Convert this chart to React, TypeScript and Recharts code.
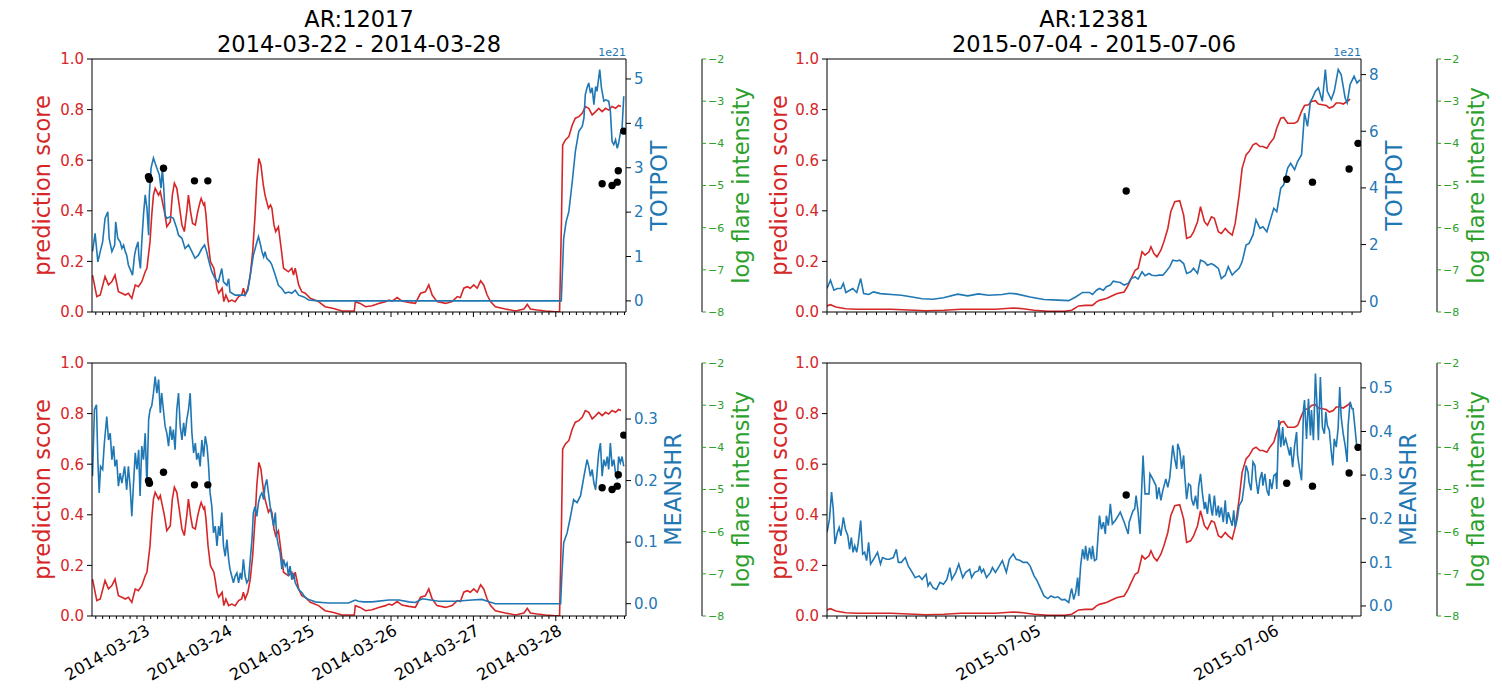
import React from 'react';
import { ComposedChart, Line, Scatter, XAxis, YAxis, ReferenceLine } from 'recharts';

const FONT = "'DejaVu Sans', 'Liberation Sans', sans-serif";
const RED = '#d62728';
const BLUE = '#1f77b4';
const GREEN = '#2ca02c';

// ---------- AR 12017 (x = hours since 2014-03-22 00:00) ----------
const titleA = ['AR:12017', '2014-03-22 - 2014-03-28'];
const dayHoursA = [24, 48, 72, 96, 120, 144];
const dayLabelsA = ['2014-03-23', '2014-03-24', '2014-03-25', '2014-03-26', '2014-03-27', '2014-03-28'];

const scoreA: [number, number][] = [
  [9.05,0.146],[10.3,0.061],[11.3,0.067],[12.7,0.140],[13.7,0.107],[14.7,0.120],[15.6,0.146],[16.6,0.080],[17.6,0.074],[18.6,0.067],[19.5,0.074],[20.5,0.054],[21.5,0.107],[22.4,0.100],[23.4,0.120],[24.4,0.159],[24.9,0.173],[25.8,0.278],[26.3,0.383],[26.8,0.462],[27.3,0.489],[28.3,0.462],[28.8,0.476],[29.2,0.449],[30.0,0.397],[30.7,0.337],[31.7,0.357],[32.3,0.462],[32.9,0.509],[33.6,0.489],[34.3,0.423],[35.1,0.344],[35.8,0.318],[36.5,0.397],[37.0,0.462],[37.6,0.397],[38.2,0.350],[39.0,0.344],[39.7,0.397],[40.4,0.436],[40.7,0.449],[41.4,0.423],[41.7,0.430],[42.1,0.383],[42.7,0.278],[43.4,0.199],[44.4,0.173],[44.9,0.133],[45.3,0.094],[45.8,0.074],[46.8,0.094],[47.3,0.041],[47.9,0.067],[48.7,0.041],[49.6,0.047],[50.6,0.041],[51.6,0.061],[52.5,0.067],[53.0,0.094],[53.5,0.067],[54.3,0.094],[55.0,0.146],[55.7,0.238],[56.4,0.383],[56.9,0.515],[57.5,0.607],[58.1,0.581],[58.8,0.502],[59.3,0.462],[60.3,0.410],[60.9,0.423],[61.3,0.410],[61.9,0.344],[62.4,0.318],[63.2,0.337],[64.0,0.252],[64.7,0.173],[66.1,0.159],[67.1,0.173],[67.6,0.146],[68.1,0.173],[69.1,0.107],[70.0,0.080],[71.0,0.074],[72.5,0.054],[74.9,0.041],[76.8,0.021],[79.3,0.014],[81.7,0.004],[84.6,0.004],[85.3,0.004],[85.6,0.041],[87.0,0.034],[88.6,0.021],[90.5,0.025],[92.4,0.034],[94.4,0.041],[95.4,0.047],[96.3,0.043],[97.8,0.057],[99.2,0.043],[101.2,0.038],[103.1,0.034],[104.6,0.074],[106.0,0.080],[107.0,0.107],[108.0,0.067],[109.4,0.041],[111.9,0.034],[113.8,0.041],[115.3,0.061],[116.2,0.057],[117.2,0.094],[118.2,0.100],[119.1,0.094],[120.1,0.107],[121.1,0.094],[122.1,0.123],[123.0,0.107],[124.0,0.067],[125.0,0.041],[126.4,0.021],[129.3,0.012],[132.3,0.004],[134.7,0.012],[135.7,0.030],[136.6,0.012],[138.6,0.008],[141.0,0.004],[143.9,0.001],[145.1,0.001],[145.65,0.357],[146.0,0.660],[146.8,0.680],[147.8,0.693],[148.8,0.739],[149.7,0.766],[150.7,0.772],[151.7,0.785],[152.6,0.812],[153.6,0.805],[154.6,0.779],[155.6,0.792],[156.5,0.805],[157.5,0.792],[158.5,0.805],[159.4,0.798],[160.4,0.812],[161.4,0.805],[162.3,0.816],[163.0,0.812]
];

const totpotA: [number, number][] = [
  [9.05,1.11],[9.8,1.52],[10.6,0.88],[11.3,1.11],[12.0,1.33],[12.7,1.86],[13.5,2.01],[13.9,1.41],[14.7,1.11],[15.5,1.26],[15.8,1.78],[16.4,1.41],[17.1,1.33],[17.6,1.18],[18.1,1.26],[18.6,1.11],[19.0,1.03],[19.5,0.81],[20.3,0.66],[20.7,0.58],[21.3,1.03],[21.7,1.18],[22.3,1.33],[22.6,0.96],[23.0,0.73],[23.4,1.33],[23.9,1.94],[24.4,2.39],[24.9,2.09],[25.4,1.48],[25.6,2.39],[26.1,2.99],[26.8,3.22],[27.3,3.10],[27.8,2.99],[28.5,2.84],[29.0,2.54],[29.4,2.99],[29.8,2.54],[30.2,1.94],[30.7,1.86],[31.7,1.90],[32.6,1.86],[33.6,1.63],[34.1,1.48],[35.1,1.41],[36.0,1.18],[37.0,1.26],[38.0,1.11],[38.9,0.96],[39.9,1.03],[40.9,1.18],[41.7,1.26],[42.3,1.11],[43.0,0.88],[43.8,0.66],[44.8,0.50],[45.7,0.43],[46.7,0.73],[47.2,0.43],[48.2,0.35],[48.7,0.50],[49.1,0.20],[50.6,0.13],[52.5,0.13],[53.5,0.13],[54.3,0.24],[55.3,0.73],[55.9,1.03],[56.7,1.26],[57.4,1.45],[58.0,1.26],[58.4,1.11],[58.9,0.99],[59.3,1.11],[59.8,0.96],[60.8,0.88],[61.3,0.81],[62.3,0.58],[63.2,0.35],[64.2,0.28],[65.2,0.17],[66.1,0.20],[67.1,0.17],[68.1,0.24],[69.1,0.13],[70.6,0.09],[72.0,0.02],[74.9,0],[145.6,0],[146.3,1.41],[147.0,1.78],[147.8,2.01],[148.8,2.69],[149.7,3.37],[150.7,3.82],[151.7,3.93],[152.2,4.12],[152.6,4.65],[153.1,4.80],[153.6,4.91],[154.1,4.68],[154.6,4.80],[155.1,4.42],[155.6,4.83],[156.0,4.72],[156.8,5.21],[157.3,4.80],[158.0,4.50],[158.5,4.53],[159.4,4.50],[159.9,4.27],[160.4,3.59],[160.9,3.52],[161.4,3.63],[161.9,3.44],[162.3,3.55],[162.8,3.78],[163.3,3.89],[163.8,4.61]
];

const meanshrA: [number, number][] = [
  [9.05,0.207],[9.6,0.315],[10.2,0.323],[10.6,0.234],[11.0,0.180],[11.4,0.223],[12.0,0.218],[12.5,0.261],[13.2,0.304],[13.7,0.266],[14.2,0.277],[14.7,0.234],[15.2,0.256],[15.6,0.223],[16.1,0.234],[16.6,0.191],[17.1,0.212],[17.6,0.196],[18.4,0.223],[19.0,0.185],[19.5,0.223],[20.0,0.191],[20.5,0.142],[21.0,0.196],[21.5,0.245],[22.0,0.218],[22.5,0.250],[22.9,0.175],[23.4,0.256],[23.9,0.234],[24.4,0.277],[24.9,0.191],[25.4,0.299],[25.8,0.315],[26.3,0.321],[26.8,0.342],[27.3,0.369],[27.8,0.342],[28.3,0.364],[28.8,0.310],[29.2,0.342],[29.7,0.315],[30.2,0.288],[30.7,0.277],[31.2,0.256],[31.7,0.288],[32.2,0.266],[32.6,0.283],[33.1,0.250],[33.6,0.315],[34.1,0.342],[34.6,0.288],[35.1,0.266],[35.6,0.294],[36.0,0.272],[36.5,0.299],[37.0,0.315],[37.5,0.342],[38.0,0.277],[38.5,0.245],[39.0,0.261],[39.4,0.234],[39.9,0.245],[40.4,0.223],[40.9,0.266],[41.4,0.239],[41.9,0.272],[42.4,0.256],[42.8,0.229],[43.3,0.180],[43.8,0.158],[44.3,0.115],[44.8,0.126],[45.3,0.094],[45.8,0.126],[46.2,0.110],[46.7,0.148],[47.2,0.094],[47.7,0.077],[48.2,0.104],[48.7,0.072],[49.1,0.056],[49.6,0.045],[50.1,0.034],[50.6,0.045],[51.1,0.050],[51.6,0.034],[52.1,0.050],[52.5,0.039],[53.0,0.072],[53.5,0.045],[54.0,0.034],[54.5,0.039],[55.0,0.072],[55.5,0.104],[55.9,0.148],[56.4,0.158],[56.9,0.142],[57.4,0.164],[57.9,0.175],[58.4,0.180],[58.9,0.169],[59.3,0.191],[59.8,0.202],[60.3,0.180],[60.8,0.158],[61.3,0.142],[61.8,0.126],[62.3,0.148],[62.7,0.110],[63.2,0.094],[63.7,0.083],[64.2,0.056],[64.7,0.072],[65.2,0.061],[65.7,0.066],[66.1,0.045],[66.6,0.061],[67.1,0.039],[67.6,0.050],[68.1,0.034],[69.1,0.023],[70.0,0.018],[71.0,0.010],[72.0,0.007],[73.9,0.003],[75.9,0.002],[77.8,0.001],[83.6,0.001],[85.6,0.006],[86.5,0.004],[88.0,0.003],[90.5,0.003],[95.4,0.006],[98.3,0.006],[101.2,0.003],[103.1,0.002],[105.1,0.008],[109.9,0.004],[114.8,0.004],[119.6,0.006],[122.5,0.007],[124.5,0.003],[126.4,0.0],[145.4,0.0],[145.8,0.050],[146.3,0.099],[147.3,0.115],[148.3,0.142],[149.2,0.169],[150.2,0.164],[151.2,0.175],[152.2,0.207],[153.1,0.234],[153.6,0.223],[154.1,0.207],[154.6,0.218],[155.1,0.196],[155.6,0.185],[156.0,0.212],[156.5,0.245],[157.0,0.261],[157.5,0.207],[158.0,0.234],[158.5,0.223],[159.0,0.239],[159.4,0.218],[159.9,0.261],[160.4,0.223],[160.9,0.234],[161.4,0.212],[161.9,0.202],[162.3,0.239],[162.8,0.229],[163.3,0.239],[163.8,0.223]
];

const flareA: [number, number][] = [
  [25.36,-4.79],[25.65,-4.85],[29.73,-4.59],[38.75,-4.89],[42.64,-4.89],[157.5,-4.96],[160.4,-5.0],[161.9,-4.92],[162.2,-4.65],[163.8,-3.71]
];

// ---------- AR 12381 (x = hours since 2015-07-04 00:00) ----------
const titleB = ['AR:12381', '2015-07-04 - 2015-07-06'];
const dayHoursB = [24, 48];
const dayLabelsB = ['2015-07-05', '2015-07-06'];

const scoreB: [number, number][] = [
  [3.0,0.024],[3.35,0.029],[3.9,0.020],[4.9,0.013],[6.0,0.011],[7.7,0.011],[9.5,0.011],[11.2,0.008],[13.0,0.005],[14.8,0.007],[16.5,0.011],[18.3,0.011],[20.0,0.011],[21.8,0.016],[22.8,0.013],[23.9,0.007],[25.3,0.003],[27.0,0.003],[27.7,0.007],[28.4,0.024],[29.1,0.026],[29.8,0.026],[30.2,0.040],[30.5,0.046],[31.2,0.053],[31.9,0.066],[32.3,0.073],[33.0,0.079],[33.4,0.106],[33.7,0.132],[34.1,0.165],[34.4,0.172],[34.8,0.238],[35.1,0.225],[35.5,0.238],[35.7,0.258],[36.0,0.231],[36.3,0.218],[36.7,0.244],[37.0,0.277],[37.4,0.330],[37.7,0.396],[38.1,0.436],[38.6,0.440],[39.0,0.383],[39.3,0.291],[39.7,0.297],[40.0,0.317],[40.4,0.357],[40.7,0.416],[41.1,0.357],[41.4,0.343],[41.8,0.376],[42.1,0.370],[42.5,0.317],[42.8,0.310],[43.2,0.330],[43.5,0.317],[43.9,0.304],[44.2,0.350],[44.6,0.462],[44.9,0.568],[45.3,0.621],[45.6,0.634],[46.0,0.661],[46.3,0.667],[46.7,0.654],[47.0,0.654],[47.4,0.647],[47.7,0.667],[48.1,0.687],[48.4,0.727],[48.8,0.766],[49.1,0.769],[49.5,0.746],[50.2,0.746],[50.5,0.753],[50.9,0.793],[51.2,0.816],[51.6,0.819],[51.9,0.832],[52.3,0.835],[52.6,0.822],[53.0,0.819],[53.4,0.816],[53.7,0.806],[54.1,0.812],[54.4,0.826],[54.8,0.826],[55.1,0.822],[55.5,0.832],[55.8,0.841]
];

const totpotB: [number, number][] = [
  [3.0,0.45],[3.35,0.74],[3.7,0.39],[4.05,0.45],[4.4,0.45],[4.65,0.63],[4.9,0.31],[5.3,0.39],[5.6,0.45],[6.0,0.31],[6.4,0.80],[6.7,0.27],[7.2,0.24],[7.7,0.33],[8.4,0.27],[9.5,0.24],[10.5,0.21],[11.6,0.15],[12.6,0.09],[13.7,0.07],[14.75,0.12],[16.2,0.25],[17.2,0.19],[18.3,0.26],[19.3,0.21],[20.7,0.24],[21.4,0.28],[22.1,0.26],[23.5,0.15],[24.9,0.06],[26.3,0.04],[27.4,0.02],[28.1,0.15],[28.8,0.31],[29.5,0.31],[29.8,0.24],[30.2,0.39],[30.5,0.45],[30.9,0.39],[31.2,0.51],[31.6,0.57],[31.9,0.71],[32.3,0.68],[32.6,0.66],[33.0,0.57],[33.4,0.63],[33.7,0.80],[34.1,0.86],[34.4,0.78],[34.8,1.04],[35.1,0.90],[35.5,0.98],[35.8,0.92],[36.2,0.90],[36.5,0.92],[36.9,0.92],[37.2,1.04],[37.6,1.22],[37.9,1.45],[38.3,1.42],[38.6,1.45],[39.0,1.33],[39.3,0.98],[39.7,1.04],[40.0,1.16],[40.4,0.98],[40.7,1.45],[41.1,1.39],[41.4,1.27],[41.8,1.33],[42.1,1.27],[42.5,1.16],[42.8,0.80],[43.2,0.92],[43.5,1.22],[43.9,0.92],[44.2,1.04],[44.6,1.16],[44.9,1.39],[45.3,1.98],[45.6,2.04],[46.0,2.34],[46.3,2.87],[46.7,2.57],[47.0,2.63],[47.4,2.45],[47.7,2.81],[48.1,3.28],[48.4,3.16],[48.8,3.99],[49.1,4.11],[49.5,4.70],[49.8,4.87],[50.2,4.64],[50.5,4.93],[50.9,5.17],[51.2,6.64],[51.5,6.17],[51.8,7.06],[52.0,7.17],[52.3,7.41],[52.6,7.53],[53.0,7.06],[53.3,8.18],[53.5,7.41],[53.9,7.12],[54.2,7.41],[54.6,8.18],[54.9,8.00],[55.3,7.17],[55.5,7.00],[55.8,7.65],[56.2,7.94],[56.5,7.70],[56.8,7.82]
];

const meanshrB: [number, number][] = [
  [3.0,0.169],[3.25,0.199],[3.46,0.261],[3.63,0.222],[3.8,0.142],[4.05,0.169],[4.23,0.180],[4.4,0.161],[4.65,0.203],[4.86,0.176],[5.1,0.161],[5.28,0.130],[5.46,0.157],[5.63,0.123],[5.8,0.138],[6.0,0.123],[6.16,0.146],[6.4,0.196],[6.6,0.119],[6.8,0.123],[7.0,0.104],[7.2,0.146],[7.4,0.096],[7.7,0.107],[8.1,0.123],[8.4,0.096],[8.6,0.111],[9.0,0.107],[9.3,0.107],[9.7,0.111],[10.0,0.130],[10.2,0.100],[10.5,0.100],[10.9,0.111],[11.2,0.092],[11.6,0.077],[11.9,0.065],[12.3,0.069],[12.6,0.061],[13.0,0.073],[13.2,0.046],[13.4,0.054],[13.7,0.042],[14.05,0.038],[14.4,0.054],[14.75,0.050],[15.1,0.061],[15.4,0.088],[15.6,0.061],[16.0,0.077],[16.3,0.096],[16.7,0.065],[17.0,0.077],[17.4,0.084],[17.6,0.065],[17.9,0.077],[18.3,0.081],[18.4,0.092],[18.6,0.077],[18.8,0.084],[19.1,0.065],[19.5,0.077],[19.7,0.088],[20.0,0.077],[20.4,0.092],[20.7,0.104],[21.1,0.077],[21.4,0.107],[21.8,0.119],[22.1,0.107],[22.5,0.104],[22.8,0.100],[23.2,0.100],[23.5,0.092],[23.9,0.069],[24.2,0.058],[24.6,0.038],[24.9,0.023],[25.3,0.017],[25.6,0.023],[26.0,0.019],[26.3,0.021],[26.7,0.014],[27.0,0.015],[27.4,0.008],[27.6,0.031],[27.7,0.040],[27.9,0.015],[28.1,0.031],[28.3,0.065],[28.4,0.023],[28.6,0.092],[28.8,0.130],[29.0,0.107],[29.1,0.138],[29.3,0.104],[29.5,0.134],[29.7,0.107],[29.8,0.138],[30.0,0.104],[30.2,0.107],[30.5,0.207],[30.7,0.176],[30.9,0.192],[31.1,0.165],[31.2,0.207],[31.4,0.184],[31.6,0.234],[31.8,0.188],[32.1,0.196],[32.5,0.211],[32.6,0.215],[33.0,0.192],[33.4,0.165],[33.5,0.192],[33.9,0.219],[34.05,0.222],[34.2,0.253],[34.4,0.215],[34.6,0.165],[34.75,0.261],[34.9,0.345],[35.1,0.257],[35.5,0.257],[35.6,0.303],[35.8,0.295],[36.2,0.276],[36.3,0.245],[36.5,0.272],[36.7,0.242],[36.9,0.265],[37.2,0.291],[37.4,0.272],[37.6,0.295],[37.9,0.368],[38.1,0.337],[38.3,0.314],[38.4,0.372],[38.6,0.357],[38.8,0.314],[39.0,0.345],[39.1,0.303],[39.3,0.245],[39.5,0.280],[39.7,0.276],[39.8,0.245],[40.0,0.230],[40.2,0.253],[40.4,0.222],[40.5,0.272],[40.7,0.303],[40.9,0.257],[41.1,0.222],[41.2,0.238],[41.4,0.211],[41.6,0.257],[41.8,0.219],[41.9,0.207],[42.1,0.253],[42.3,0.207],[42.5,0.230],[42.6,0.203],[42.8,0.226],[43.0,0.192],[43.2,0.242],[43.35,0.188],[43.5,0.215],[43.7,0.199],[43.9,0.184],[44.05,0.219],[44.2,0.180],[44.4,0.199],[44.6,0.230],[44.9,0.242],[45.1,0.276],[45.3,0.322],[45.5,0.307],[45.6,0.284],[45.8,0.265],[46.0,0.330],[46.2,0.322],[46.3,0.291],[46.5,0.257],[46.7,0.291],[46.9,0.307],[47.0,0.276],[47.2,0.303],[47.4,0.265],[47.6,0.253],[47.7,0.291],[47.9,0.268],[48.1,0.299],[48.3,0.303],[48.4,0.268],[48.6,0.426],[48.8,0.364],[49.0,0.410],[49.1,0.368],[49.3,0.383],[49.5,0.364],[49.7,0.345],[49.8,0.364],[50.0,0.318],[50.2,0.368],[50.4,0.399],[50.5,0.345],[50.7,0.314],[50.9,0.288],[51.1,0.452],[51.2,0.472],[51.4,0.383],[51.6,0.475],[51.8,0.391],[51.9,0.449],[52.1,0.380],[52.3,0.533],[52.5,0.441],[52.6,0.380],[52.8,0.525],[53.0,0.410],[53.2,0.395],[53.35,0.445],[53.5,0.414],[53.7,0.403],[53.9,0.353],[54.05,0.322],[54.2,0.383],[54.4,0.364],[54.6,0.410],[54.75,0.502],[54.9,0.433],[55.1,0.395],[55.3,0.368],[55.5,0.330],[55.6,0.414],[55.8,0.468],[56.0,0.452],[56.1,0.452],[56.3,0.406],[56.5,0.360],[56.8,0.368]
];

const flareB: [number, number][] = [
  [33.2,-5.13],[49.4,-4.85],[52.0,-4.92],[55.7,-4.61],[56.6,-4.0]
];

// ---------- axis tick values ----------
const scoreTicks = [0, 0.2, 0.4, 0.6, 0.8, 1.0];
const flareTicks = [-8, -7, -6, -5, -4, -3, -2];
const totpotTicksA = [0, 1, 2, 3, 4, 5];
const totpotTicksB = [0, 2, 4, 6, 8];
const meanshrTicksA = [0, 0.1, 0.2, 0.3];
const meanshrTicksB = [0, 0.1, 0.2, 0.3, 0.4, 0.5];

const range = (a: number, b: number, step: number) => {
  const out: number[] = [];
  for (let v = a; v <= b + 1e-9; v += step) out.push(v);
  return out;
};
const minorTicksA = range(10, 164, 2);
const minorTicksB = range(3, 56, 1);

const toPts = (arr: [number, number][]) => arr.map(([h, v]) => ({ h, v }));
const minus = (v: number) => (v < 0 ? '\u2212' + Math.abs(v) : String(v));

function TimeTick(props: any) {
  const { x, y, payload, dayHours, dayLabels, showLabels } = props;
  const idx = dayHours.indexOf(payload.value);
  const major = idx >= 0;
  const ax = x + 1;
  const ay = y + 7;
  return (
    <g>
      <line x1={x} x2={x} y1={y} y2={y + (major ? 5 : 3)} stroke="#000" strokeWidth={1} />
      {showLabels && major ? (
        <g transform={`translate(${ax} ${ay}) rotate(-30)`}>
          <text x={0} y={0} dy="0.76em" textAnchor="end" fontSize={16.3} fontFamily={FONT} fill="#000">
            {dayLabels[idx]}
          </text>
        </g>
      ) : null}
    </g>
  );
}

const Dot = (p: any) => <circle cx={p.cx} cy={p.cy} r={3.7} fill="#000" />;

interface PanelProps {
  left: number;
  top: number;
  height: number;
  xHeight: number;
  domain: [number, number];
  ticks: number[];
  dayHours: number[];
  dayLabels: string[];
  showLabels: boolean;
  score: [number, number][];
  blue: [number, number][];
  blueDomain: [number, number];
  blueTicks: number[];
  blueFmt: (v: number) => string;
  flare: [number, number][];
}

function Panel(p: PanelProps) {
  return (
    <div style={{ position: 'absolute', left: p.left, top: p.top }}>
      <ComposedChart width={762} height={p.height} margin={{ top: 19, right: 0, bottom: 0, left: 0 }}>
        <XAxis
          dataKey="h"
          type="number"
          domain={p.domain}
          allowDataOverflow
          ticks={p.ticks}
          interval={0}
          tickLine={false}
          tickSize={0}
          tickMargin={0}
          height={p.xHeight}
          axisLine={{ stroke: '#000', strokeWidth: 1 }}
          tick={(t: any) => (
            <TimeTick {...t} dayHours={p.dayHours} dayLabels={p.dayLabels} showLabels={p.showLabels} />
          )}
        />
        <YAxis
          yAxisId="score"
          orientation="left"
          width={92}
          type="number"
          domain={[0, 1]}
          allowDataOverflow
          ticks={scoreTicks}
          interval={0}
          tickFormatter={(v: number) => v.toFixed(1)}
          tick={{ fill: RED, fontSize: 15, fontFamily: FONT }}
          tickLine={{ stroke: '#000' }}
          tickSize={5}
          tickMargin={3}
          axisLine={{ stroke: '#000', strokeWidth: 1 }}
        />
        <YAxis
          yAxisId="blue"
          orientation="right"
          width={76}
          type="number"
          domain={p.blueDomain}
          allowDataOverflow
          ticks={p.blueTicks}
          interval={0}
          tickFormatter={p.blueFmt}
          tick={{ fill: BLUE, fontSize: 15, fontFamily: FONT }}
          tickLine={{ stroke: '#000' }}
          tickSize={5}
          tickMargin={3}
          axisLine={{ stroke: '#000', strokeWidth: 1 }}
        />
        <YAxis
          yAxisId="flare"
          orientation="right"
          width={60}
          type="number"
          domain={[-8, -2]}
          allowDataOverflow
          ticks={flareTicks}
          interval={0}
          tickFormatter={minus}
          tick={{ fill: GREEN, fontSize: 11, fontFamily: FONT }}
          tickLine={{ stroke: GREEN }}
          tickSize={4}
          tickMargin={2}
          axisLine={{ stroke: '#000', strokeWidth: 1 }}
        />
        <ReferenceLine yAxisId="score" y={1} stroke="#000" strokeWidth={1} />
        <Line
          yAxisId="score"
          data={toPts(p.score)}
          dataKey="v"
          type="linear"
          stroke={RED}
          strokeWidth={1.6}
          dot={false}
          activeDot={false}
          isAnimationActive={false}
        />
        <Line
          yAxisId="blue"
          data={toPts(p.blue)}
          dataKey="v"
          type="linear"
          stroke={BLUE}
          strokeWidth={1.6}
          dot={false}
          activeDot={false}
          isAnimationActive={false}
        />
        <Scatter
          yAxisId="flare"
          data={toPts(p.flare)}
          dataKey="v"
          shape={Dot}
          isAnimationActive={false}
        />
      </ComposedChart>
    </div>
  );
}

function VLabel({ x, y, text, color }: { x: number; y: number; text: string; color: string }) {
  return (
    <text
      x={x}
      y={y}
      transform={`rotate(-90, ${x}, ${y})`}
      textAnchor="middle"
      dominantBaseline="central"
      fontSize={22.5}
      fontFamily={FONT}
      fill={color}
    >
      {text}
    </text>
  );
}

export default function App() {
  const topY = 185.5;
  const botY = 489.5;
  return (
    <div style={{ position: 'absolute', left: 0, top: 0, width: 1502, height: 688, background: '#fff', overflow: 'hidden' }}>
      <Panel
        left={0} top={40} height={292} xHeight={20}
        domain={[8.9, 164.45]} ticks={minorTicksA} dayHours={dayHoursA} dayLabels={dayLabelsA} showLabels={false}
        score={scoreA} blue={totpotA} blueDomain={[-0.25, 5.45]} blueTicks={totpotTicksA}
        blueFmt={(v) => String(v)} flare={flareA}
      />
      <Panel
        left={0} top={344} height={344} xHeight={72}
        domain={[8.9, 164.45]} ticks={minorTicksA} dayHours={dayHoursA} dayLabels={dayLabelsA} showLabels={true}
        score={scoreA} blue={meanshrA} blueDomain={[-0.02, 0.391]} blueTicks={meanshrTicksA}
        blueFmt={(v) => v.toFixed(1)} flare={flareA}
      />
      <Panel
        left={735} top={40} height={292} xHeight={20}
        domain={[3.0, 56.9]} ticks={minorTicksB} dayHours={dayHoursB} dayLabels={dayLabelsB} showLabels={false}
        score={scoreB} blue={totpotB} blueDomain={[-0.38, 8.55]} blueTicks={totpotTicksB}
        blueFmt={(v) => String(v)} flare={flareB}
      />
      <Panel
        left={735} top={344} height={344} xHeight={72}
        domain={[3.0, 56.9]} ticks={minorTicksB} dayHours={dayHoursB} dayLabels={dayLabelsB} showLabels={true}
        score={scoreB} blue={meanshrB} blueDomain={[-0.023, 0.557]} blueTicks={meanshrTicksB}
        blueFmt={(v) => v.toFixed(1)} flare={flareB}
      />
      <svg width={1502} height={688} style={{ position: 'absolute', left: 0, top: 0, pointerEvents: 'none' }}>
        <text x={359} y={27} textAnchor="middle" fontSize={22.5} fontFamily={FONT} fill="#000">{titleA[0]}</text>
        <text x={359} y={52} textAnchor="middle" fontSize={22.5} fontFamily={FONT} fill="#000">{titleA[1]}</text>
        <text x={1094} y={27} textAnchor="middle" fontSize={22.5} fontFamily={FONT} fill="#000">{titleB[0]}</text>
        <text x={1094} y={52} textAnchor="middle" fontSize={22.5} fontFamily={FONT} fill="#000">{titleB[1]}</text>
        <text x={626} y={56} textAnchor="end" fontSize={11} fontFamily={FONT} fill={BLUE}>1e21</text>
        <text x={1361} y={56} textAnchor="end" fontSize={11} fontFamily={FONT} fill={BLUE}>1e21</text>

        <VLabel x={42} y={topY} text="prediction score" color={RED} />
        <VLabel x={659} y={topY} text="TOTPOT" color={BLUE} />
        <VLabel x={741} y={topY} text="log flare intensity" color={GREEN} />
        <VLabel x={42} y={botY} text="prediction score" color={RED} />
        <VLabel x={673} y={botY} text="MEANSHR" color={BLUE} />
        <VLabel x={741} y={botY} text="log flare intensity" color={GREEN} />

        <VLabel x={779} y={topY} text="prediction score" color={RED} />
        <VLabel x={1394} y={topY} text="TOTPOT" color={BLUE} />
        <VLabel x={1476} y={topY} text="log flare intensity" color={GREEN} />
        <VLabel x={779} y={botY} text="prediction score" color={RED} />
        <VLabel x={1408} y={botY} text="MEANSHR" color={BLUE} />
        <VLabel x={1476} y={botY} text="log flare intensity" color={GREEN} />
      </svg>
    </div>
  );
}
